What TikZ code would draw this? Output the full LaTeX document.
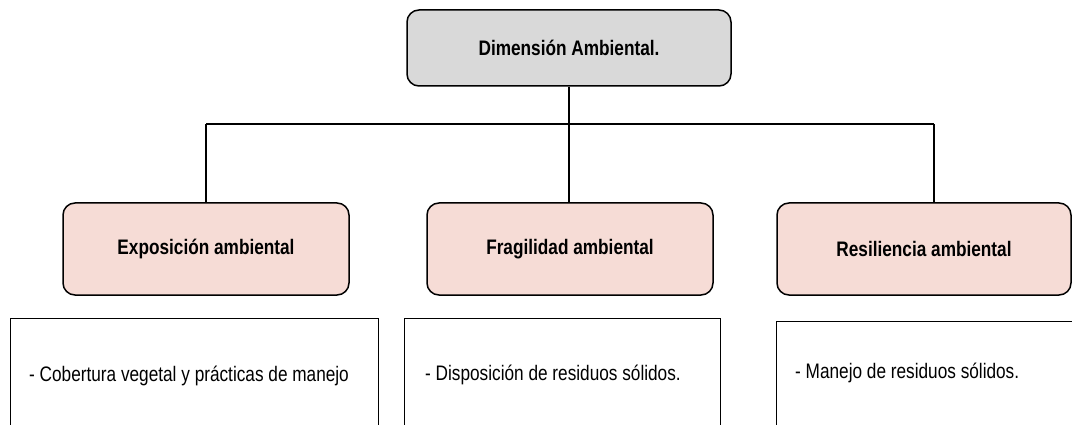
\documentclass[tikz,border=0pt]{standalone}
\usepackage{fontspec}
\setmainfont{Liberation Sans}[FakeStretch=0.82]
\definecolor{topgray}{HTML}{D9D9D9}
\definecolor{catpink}{HTML}{F6DCD6}
\tikzset{
  topbox/.style={draw, line width=1.5pt, rounded corners=12pt, fill=topgray, minimum width=324pt, minimum height=76pt, font=\bfseries\fontsize{21}{25}\selectfont, inner sep=0pt},
  catbox/.style={draw, line width=1.5pt, rounded corners=12pt, fill=catpink, minimum width=286pt, minimum height=92pt, font=\bfseries\fontsize{21}{25}\selectfont, inner sep=0pt},
  itembox/.style={draw, line width=1.2pt, minimum height=200pt, inner sep=0pt},
  itemtext/.style={anchor=west, font=\fontsize{21}{25}\selectfont, inner sep=0pt},
  conn/.style={line width=1.3pt}
}
\begin{document}
\begin{tikzpicture}[x=1pt,y=-1pt]
\useasboundingbox (0,0) rectangle (1072,425);
\clip (0,0) rectangle (1072,425);
\fill[white] (0,0) rectangle (1072,425);
% top node
\node[topbox] (top) at (569,48) {Dimensión Ambiental.};
% category nodes
\node[catbox] (expo) at (206,249) {Exposición ambiental};
\node[catbox] (frag) at (570,249) {Fragilidad ambiental};
\node[catbox, minimum width=294pt] (res) at (924,249) {Resiliencia ambiental};
% item boxes (open at the bottom, cut by the page edge)
\node[itembox, minimum width=368pt, anchor=north west] (ia) at (10,318) {};
\node[itembox, minimum width=316pt, anchor=north west] (ib) at (404,318) {};
\node[itembox, minimum width=320pt, anchor=north west] (ic) at (776,321) {};
\node[itemtext] (ta) at (29,376) {- Cobertura vegetal y prácticas de manejo};
\node[itemtext] (tb) at (425,375) {- Disposición de residuos sólidos.};
\node[itemtext] (tc) at (795,373) {- Manejo de residuos sólidos.};
% connectors
\coordinate (busL) at (206,124);
\coordinate (busR) at (934,124);
\draw[conn] (busL) -- (busR);
\draw[conn] (top.south) -- (top.south |- frag.north);
\draw[conn] (busL) -- (expo.north);
\draw[conn] (busR) -- (busR |- res.north);
\end{tikzpicture}
\end{document}
